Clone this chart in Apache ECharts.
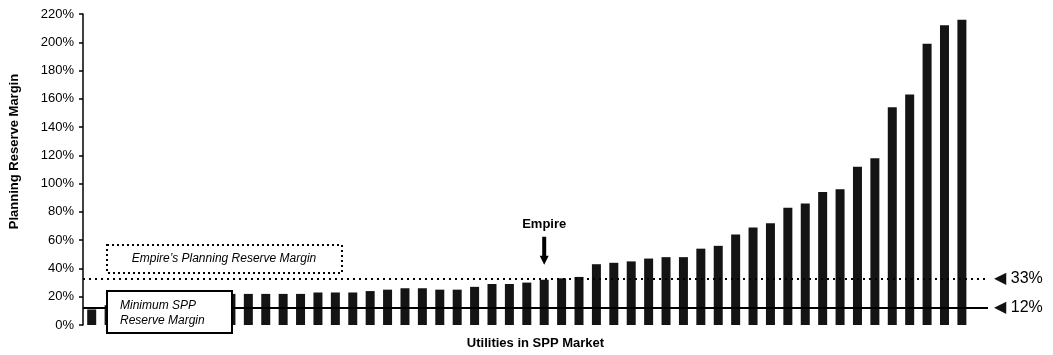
<!DOCTYPE html>
<html>
<head>
<meta charset="utf-8">
<title>Planning Reserve Margin - Utilities in SPP Market</title>
<script src="https://cdn.jsdelivr.net/npm/echarts@6/dist/echarts.min.js"></script>
<style>
  html, body { margin: 0; padding: 0; background: #fff; }
  #chart { width: 1053px; height: 355px; }
</style>
</head>
<body>
<div id="chart"></div>
<script>
// planning reserve margin (%) per utility, sorted low to high
const margins = [11, 14, 16, 17, 18, 19, 20, 21, 22, 22, 22, 22, 22, 23, 23, 23, 24, 25, 26, 26,
  25, 25, 27, 29, 29, 30, 32, 33, 34, 43, 44, 45, 47, 48, 48, 54, 56, 64, 69, 72,
  83, 86, 94, 96, 112, 118, 154, 163, 199, 212, 216]
const empireIndex = 26
const minimumMargin = 12
const empireMargin = 33
const yTicks = { min: 0, max: 220, interval: 20 }

// one empty slot at the end so the reference lines run past the last bar
const categories = margins.map((_, i) => 'Utility ' + (i + 1)).concat([''])

const chart = echarts.init(document.getElementById('chart'))

const refLabel = (text) => ({
  show: true,
  position: 'end',
  distance: 6,
  formatter: '{t|◀} ' + text,
  color: '#000',
  fontSize: 16,
  fontFamily: 'Liberation Sans, Arial, sans-serif',
  rich: {
    t: { fontFamily: 'DejaVu Sans', fontSize: 16, color: '#111' }
  }
})

chart.setOption({
  animation: false,
  grid: { left: 83, right: 65, top: 14, bottom: 25 },
  xAxis: {
    type: 'category',
    data: categories,
    name: 'Utilities in SPP Market',
    nameLocation: 'middle',
    nameGap: 12,
    nameTextStyle: { fontSize: 13, fontWeight: 'bold', color: '#000', fontFamily: 'Liberation Sans, Arial, sans-serif' },
    axisLine: { show: false },
    axisTick: { show: false },
    axisLabel: { show: false }
  },
  yAxis: {
    type: 'value',
    min: yTicks.min,
    max: yTicks.max,
    interval: yTicks.interval,
    name: 'Planning Reserve Margin',
    nameLocation: 'middle',
    nameGap: 62,
    nameTextStyle: {
      fontSize: 13, fontWeight: 'bold', color: '#000',
      fontFamily: 'Liberation Sans, Arial, sans-serif',
      padding: [0, 0, 0, 36]
    },
    axisLine: { show: true, lineStyle: { color: '#000', width: 1.5 } },
    axisTick: { show: true, length: 4, lineStyle: { color: '#000', width: 1.5 } },
    axisLabel: {
      formatter: '{value}%', color: '#000', fontSize: 13, margin: 9,
      fontFamily: 'Liberation Sans, Arial, sans-serif'
    },
    splitLine: { show: false }
  },
  series: [{
    type: 'bar',
    data: margins,
    barWidth: 9,
    itemStyle: { color: '#141414' },
    markLine: {
      silent: true,
      symbol: ['none', 'none'],
      data: [
        {
          yAxis: empireMargin,
          lineStyle: { type: [2, 4], color: '#000', width: 2 },
          label: refLabel(empireMargin + '%')
        },
        {
          yAxis: minimumMargin,
          lineStyle: { type: 'solid', color: '#000', width: 2 },
          label: refLabel(minimumMargin + '%')
        }
      ]
    },
    markPoint: {
      silent: true,
      data: [{
        coord: [empireIndex, margins[empireIndex]],
        symbol: 'path://M2.5,0 L6.5,0 L6.5,19 L9,19 L4.5,28 L0,19 L2.5,19 Z',
        symbolSize: [9, 28],
        symbolOffset: [0, -29],
        itemStyle: { color: '#000' },
        label: {
          show: true,
          position: 'top',
          distance: 6,
          formatter: 'Empire',
          color: '#000',
          fontSize: 13,
          fontWeight: 'bold',
          fontFamily: 'Liberation Sans, Arial, sans-serif'
        }
      }]
    }
  }],
  graphic: [
    {
      type: 'rect',
      z: 100,
      shape: { x: 107, y: 245, width: 235, height: 28 },
      style: { fill: '#fff', stroke: '#000', lineWidth: 2, lineDash: [2, 3] }
    },
    {
      type: 'text',
      z: 101,
      x: 224, y: 259,
      style: {
        text: 'Empire’s Planning Reserve Margin',
        fontSize: 12, fontStyle: 'italic', fill: '#000',
        fontFamily: 'Liberation Sans, Arial, sans-serif',
        align: 'center', verticalAlign: 'middle'
      }
    },
    {
      type: 'rect',
      z: 100,
      shape: { x: 107, y: 291, width: 125, height: 42 },
      style: { fill: '#fff', stroke: '#000', lineWidth: 2 }
    },
    {
      type: 'text',
      z: 101,
      x: 120, y: 313,
      style: {
        text: 'Minimum SPP\nReserve Margin',
        fontSize: 12, fontStyle: 'italic', fill: '#000', lineHeight: 15,
        fontFamily: 'Liberation Sans, Arial, sans-serif',
        align: 'left', verticalAlign: 'middle'
      }
    }
  ]
})
</script>
</body>
</html>
